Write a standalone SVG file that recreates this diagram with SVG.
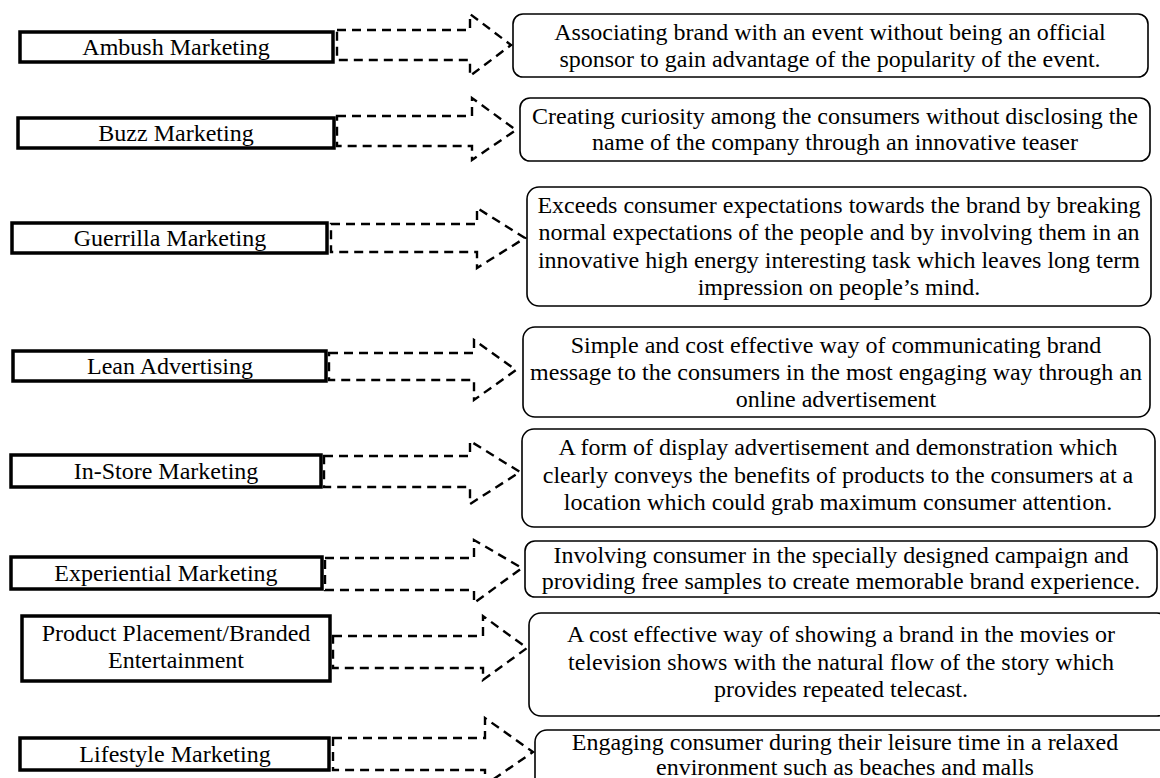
<svg xmlns="http://www.w3.org/2000/svg" width="1160" height="778" viewBox="0 0 1160 778">
<style>
.lbox{fill:#fff;stroke:#000;stroke-width:3.5}
.dbox{fill:#fff;stroke:#000;stroke-width:1.6}
.arr{fill:none;stroke:#000;stroke-width:2.4;stroke-dasharray:9,6}
text{font-family:"Liberation Serif","Times New Roman",serif;font-size:24px;fill:#000;text-anchor:middle}
</style>
<rect width="1160" height="778" fill="#fff"/>
<g id="connectors">
<path class="arr" d="M337,30 H470 V14 L511,45 L470,76 V60 H337 Z"/>
<path class="arr" d="M337,116 H472 V98 L516,130 L472,160 V146 H337 Z"/>
<path class="arr" d="M331,224 H477 V208 L525,238 L477,268 V252 H331 Z"/>
<path class="arr" d="M329,353 H474 V340 L516,370 L474,400 V380 H329 Z"/>
<path class="arr" d="M324,456 H470 V441 L520,472 L470,504 V487 H324 Z"/>
<path class="arr" d="M325,558 H474 V540 L522,568 L474,603 V590 H325 Z"/>
<path class="arr" d="M333,636 H483 V616 L527,648 L483,680 V668 H333 Z"/>
<path class="arr" d="M333,738 H485 V718 L533,752 L485,785 V770 H333 Z"/>
</g>
<g id="n1"><rect class="lbox" x="20" y="32" width="313" height="30"/><text x="176" y="55">Ambush Marketing</text></g>
<g id="d1"><rect class="dbox" x="513" y="14" width="635" height="63" rx="10"/><text x="830" y="40">Associating brand with an event without being an official</text><text x="830" y="67">sponsor to gain advantage of the popularity of the event.</text></g>
<g id="n2"><rect class="lbox" x="18" y="118" width="316" height="30"/><text x="176" y="141">Buzz Marketing</text></g>
<g id="d2"><rect class="dbox" x="520" y="98" width="630" height="63" rx="10"/><text x="835" y="124">Creating curiosity among the consumers without disclosing the</text><text x="835" y="150">name of the company through an innovative teaser</text></g>
<g id="n3"><rect class="lbox" x="12" y="223" width="315" height="30"/><text x="170" y="246">Guerrilla Marketing</text></g>
<g id="d3"><rect class="dbox" x="527" y="187" width="624" height="119" rx="12"/><text x="839" y="213">Exceeds consumer expectations towards the brand by breaking</text><text x="839" y="240">normal expectations of the people and by involving them in an</text><text x="839" y="268">innovative high energy interesting task which leaves long term</text><text x="839" y="295">impression on people’s mind.</text></g>
<g id="n4"><rect class="lbox" x="13" y="351" width="313" height="30"/><text x="170" y="374">Lean Advertising</text></g>
<g id="d4"><rect class="dbox" x="523" y="327" width="627" height="90" rx="12"/><text x="836" y="353">Simple and cost effective way of communicating brand</text><text x="836" y="380">message to the consumers in the most engaging way through an</text><text x="836" y="407">online advertisement</text></g>
<g id="n5"><rect class="lbox" x="11" y="455" width="310" height="32"/><text x="166" y="479">In-Store Marketing</text></g>
<g id="d5"><rect class="dbox" x="522" y="429" width="633" height="98" rx="12"/><text x="838" y="455">A form of display advertisement and demonstration which</text><text x="838" y="483">clearly conveys the benefits of products to the consumers at a</text><text x="838" y="510">location which could grab maximum consumer attention.</text></g>
<g id="n6"><rect class="lbox" x="11" y="557" width="311" height="32"/><text x="166" y="581">Experiential Marketing</text></g>
<g id="d6"><rect class="dbox" x="525" y="541" width="632" height="56" rx="10"/><text x="841" y="563">Involving consumer in the specially designed campaign and</text><text x="841" y="589">providing free samples to create memorable brand experience.</text></g>
<g id="n7"><rect class="lbox" x="22" y="616" width="308" height="65"/><text x="176" y="641">Product Placement/Branded</text><text x="176" y="668">Entertainment</text></g>
<g id="d7"><rect class="dbox" x="529" y="613" width="640" height="103" rx="12"/><text x="841" y="642">A cost effective way of showing a brand in the movies or</text><text x="841" y="670">television shows with the natural flow of the story which</text><text x="841" y="697">provides repeated telecast.</text></g>
<g id="n8"><rect class="lbox" x="20" y="738" width="309" height="32"/><text x="175" y="762">Lifestyle Marketing</text></g>
<g id="d8"><rect class="dbox" x="535" y="730" width="640" height="70" rx="12"/><text x="845" y="750">Engaging consumer during their leisure time in a relaxed</text><text x="845" y="775">environment such as beaches and malls</text></g>
</svg>
